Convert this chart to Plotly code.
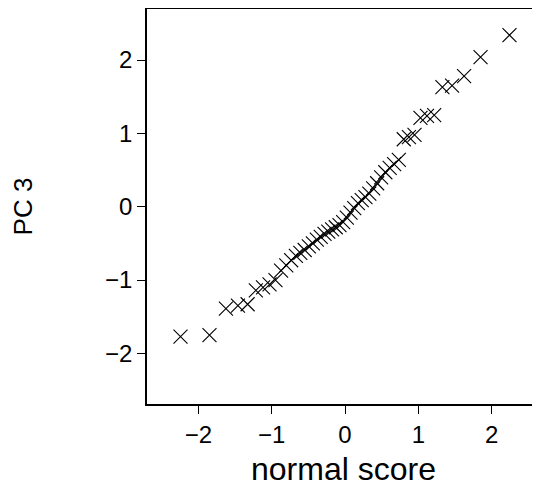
import plotly.graph_objects as go

# normal scores (x) and PC 3 values (y)
normal_score = [-2.243, -1.848, -1.624, -1.460, -1.328, -1.216, -1.118, -1.029, -0.948, -0.872,
                -0.801, -0.734, -0.670, -0.609, -0.550, -0.493, -0.438, -0.384, -0.331, -0.279,
                -0.228, -0.176, -0.126, -0.075, -0.025, 0.025, 0.075, 0.126, 0.176, 0.228,
                0.279, 0.331, 0.384, 0.438, 0.493, 0.550, 0.609, 0.670, 0.734, 0.801,
                0.872, 0.948, 1.029, 1.118, 1.216, 1.328, 1.460, 1.624, 1.848, 2.243]
pc3 = [-1.77, -1.75, -1.39, -1.35, -1.33, -1.14, -1.10, -1.06, -1.00, -0.87,
       -0.80, -0.73, -0.67, -0.63, -0.59, -0.54, -0.50, -0.45, -0.41, -0.37,
       -0.34, -0.31, -0.28, -0.25, -0.21, -0.15, -0.08, -0.02, 0.05, 0.09,
       0.13, 0.18, 0.25, 0.32, 0.40, 0.47, 0.53, 0.58, 0.64, 0.92,
       0.95, 0.98, 1.21, 1.24, 1.25, 1.63, 1.65, 1.78, 2.04, 2.34]

tick_vals = [-2, -1, 0, 1, 2]
tick_text = ["\u22122", "\u22121", "0", "1", "2"]

FONT = "Liberation Sans Narrow, Liberation Sans, sans-serif"

fig = go.Figure(go.Scatter(
    x=normal_score, y=pc3, mode="markers",
    marker=dict(symbol="x-thin", size=14, line=dict(color="black", width=1.1), color="black"),
))

fig.update_layout(
    width=540, height=504,
    margin=dict(l=139, r=8, t=1, b=108),
    plot_bgcolor="white", paper_bgcolor="white",
    showlegend=False,
    font=dict(family=FONT, color="black"),
)
fig.update_xaxes(
    range=[-2.70, 2.659], tickvals=tick_vals, ticktext=tick_text,
    ticks="outside", ticklen=8, tickwidth=1, tickcolor="black",
    showline=True, linecolor="black", linewidth=1.5, mirror=True,
    showgrid=False, zeroline=False, automargin=False,
    tickfont=dict(size=24, family=FONT),
    title=dict(text="normal score", font=dict(size=32, family=FONT), standoff=11),
)
fig.update_yaxes(
    range=[-2.69, 2.696], tickvals=tick_vals, ticktext=tick_text,
    ticks="outside", ticklen=8, tickwidth=1, tickcolor="black",
    showline=True, linecolor="black", linewidth=1.5, mirror=False,
    showgrid=False, zeroline=False, automargin=False,
    tickfont=dict(size=24, family=FONT),
    title=dict(text="PC 3", font=dict(size=26, family=FONT), standoff=65),
)

fig.write_html("out.html")
